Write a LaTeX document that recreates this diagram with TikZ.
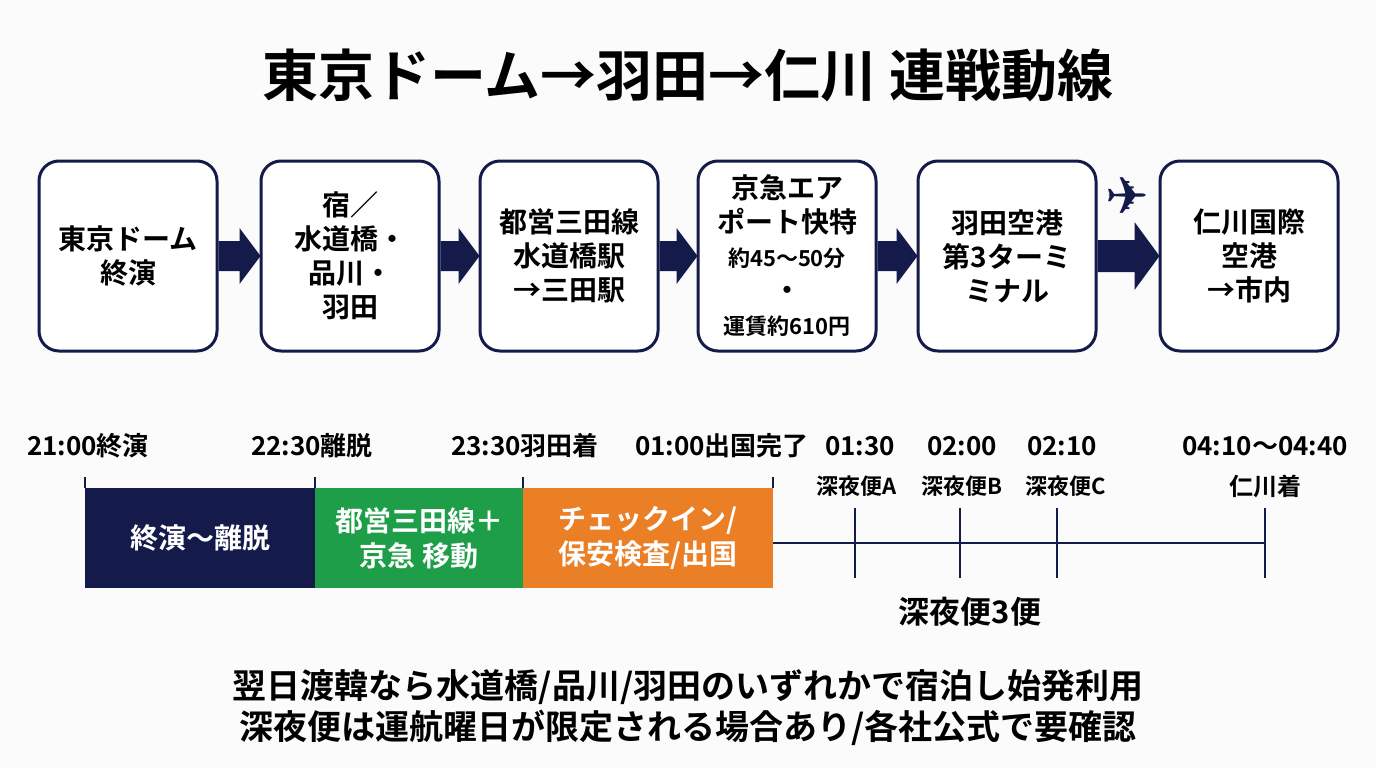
\documentclass[tikz,border=0pt]{standalone}
\usepackage{fontspec}
\setmainfont{Noto Sans CJK JP}[BoldFont={* Bold}]
\usetikzlibrary{calc}
\definecolor{navy}{HTML}{141A4A}
\definecolor{grn}{HTML}{1E9E48}
\definecolor{org}{HTML}{EB7F26}
\begin{document}
\begin{tikzpicture}[x=1pt,y=-1pt,
  box/.style={draw=navy,line width=3pt,rounded corners=20pt,fill=white,minimum width=178pt,minimum height=190pt,align=center,font=\fontsize{28}{34}\selectfont\bfseries,inner sep=2pt},
  bar/.style={draw=none,minimum height=100pt,inner sep=0pt,align=center,text=white,font=\fontsize{28}{35}\selectfont\bfseries},
  tl/.style={font=\fontsize{26}{28}\selectfont\bfseries},
  fl/.style={font=\fontsize{22}{24}\selectfont\bfseries},
  tk/.style={navy,line width=2.5pt}]
\useasboundingbox[fill=white!97!gray] (0,0) rectangle (1376,768);
\node[font=\fontsize{56}{60}\selectfont\bfseries] (title) at (688,75) {東京ドーム→羽田→仁川 連戦動線};
\node[box] (b1) at (128,256) {東京ドーム\\終演};
\node[box] (b2) at (350,256) {宿／\\水道橋・\\品川・\\ 羽田};
\node[box] (b3) at (569,256) {都営三田線\\水道橋駅\\→三田駅};
\node[box] (b4) at (787,256) {京急エア\\ポート快特\\{\fontsize{22}{30}\selectfont 約45〜50分}\\・\\{\fontsize{22}{30}\selectfont 運賃約610円}};
\node[box] (b5) at (1007,256) {羽田空港\\第3ターミ\\ミナル};
\node[box] (b6) at (1249,256) {仁川国際\\空港\\→市内};
\foreach \a/\b in {b1/b2,b2/b3,b3/b4,b4/b5}{
  \fill[navy] let \p1=(\a.east), \p2=(\b.west) in
   (\x1,\y1-15) -- (\x2-20,\y1-15) -- (\x2-20,\y1-28) -- (\x2+1,\y1) -- (\x2-20,\y1+28) -- (\x2-20,\y1+15) -- (\x1,\y1+15) -- cycle;
}
\fill[navy] let \p1=(b5.east), \p2=(b6.west) in
   (\x1,\y1-16) -- (\x2-24,\y1-16) -- (\x2-24,\y1-34) -- (\x2+1,\y1) -- (\x2-24,\y1+34) -- (\x2-24,\y1+16) -- (\x1,\y1+16) -- cycle;
\node[navy,font=\fontsize{52}{52}\selectfont,inner sep=0pt] (plane) at (1127,196) {\fontspec{DejaVu Sans}✈};
\node[bar,fill=navy,minimum width=230pt] (p1) at (200,538) {終演〜離脱};
\node[bar,fill=grn,minimum width=208pt] (p2) at (419,538) {都営三田線＋\\ 京急 移動};
\node[bar,fill=org,minimum width=250pt] (p3) at (648,538) {チェックイン/\\保安検査/出国};
\coordinate (le) at (1265,543);
\draw[tk] (p3.east |- le) -- (le);
\foreach \x in {85,315,523,773}{\draw[tk] (\x,477) -- (\x,488);}
\foreach \x in {855,960,1057,1265}{\draw[tk] (\x,508) -- (\x,578);}
\node[tl] (t1) at (88,446) {21:00終演};
\node[tl] (t2) at (312,446) {22:30離脱};
\node[tl] (t3) at (525,446) {23:30羽田着};
\node[tl] (t4) at (722,446) {01:00出国完了};
\node[tl] (t5) at (860,446) {01:30};
\node[tl] (t6) at (962,446) {02:00};
\node[tl] (t7) at (1062,446) {02:10};
\node[tl] (t8) at (1265,446) {04:10〜04:40};
\node[fl] (f1) at (857,486) {深夜便A};
\node[fl] (f2) at (962,486) {深夜便B};
\node[fl] (f3) at (1066,486) {深夜便C};
\node[fl,font=\fontsize{24}{24}\selectfont\bfseries] (f4) at (1265,486) {仁川着};
\node[font=\fontsize{31}{30}\selectfont\bfseries] (f5) at (970,612) {深夜便3便};
\node[font=\fontsize{34}{41}\selectfont\bfseries,align=center] (note) at (688,708) {翌日渡韓なら水道橋/品川/羽田のいずれかで宿泊し始発利用\\深夜便は運航曜日が限定される場合あり/各社公式で要確認};
\end{tikzpicture}
\end{document}
